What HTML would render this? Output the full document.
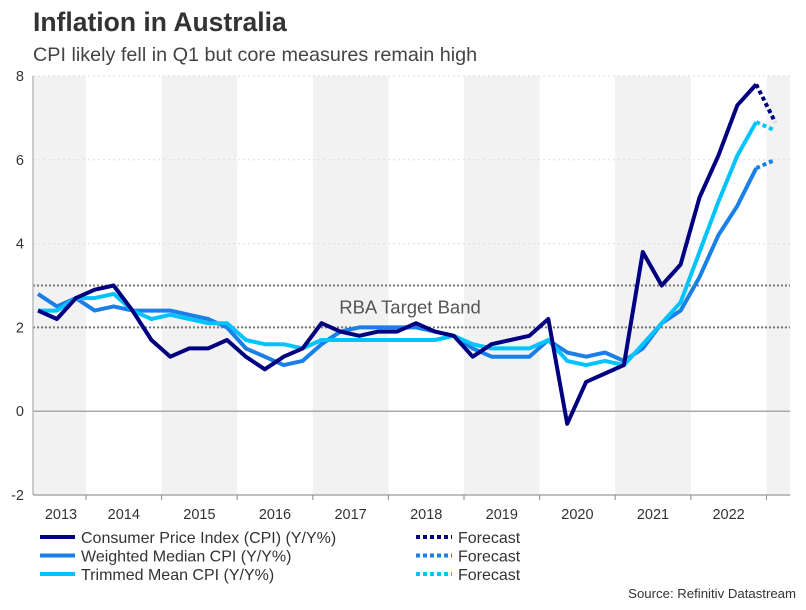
<!DOCTYPE html>
<html><head><meta charset="utf-8"><style>
body{margin:0;background:#fff;font-family:"Liberation Sans",Arial,sans-serif;}
</style></head><body>
<svg width="806" height="605" viewBox="0 0 806 605" xmlns="http://www.w3.org/2000/svg" font-family="Liberation Sans, Arial, sans-serif">
<text x="33" y="31" font-size="26.5" font-weight="bold" fill="#333">Inflation in Australia</text>
<text x="33" y="61" font-size="19.8" fill="#444">CPI likely fell in Q1 but core measures remain high</text>
<g id="bands"></g>
<g id="grid"></g>
<g id="series"></g>
<g id="axes"></g>
<g id="legend"></g>
<text x="796" y="598" font-size="13.2" fill="#333" text-anchor="end">Source: Refinitiv Datastream</text>
</svg>
<script>
const years = ["2013","2014","2015","2016","2017","2018","2019","2020","2021","2022"];
const yTicks = [-2,0,2,4,6,8];
const cpi = [2.4,2.2,2.7,2.9,3.0,2.4,1.7,1.3,1.5,1.5,1.7,1.3,1.0,1.3,1.5,2.1,1.9,1.8,1.9,1.9,2.1,1.9,1.8,1.3,1.6,1.7,1.8,2.2,-0.3,0.7,0.9,1.1,3.8,3.0,3.5,5.1,6.1,7.3,7.8];
const wmed = [2.8,2.5,2.7,2.4,2.5,2.4,2.4,2.4,2.3,2.2,2.0,1.5,1.3,1.1,1.2,1.6,1.9,2.0,2.0,2.0,2.0,1.9,1.8,1.5,1.3,1.3,1.3,1.7,1.4,1.3,1.4,1.2,1.5,2.1,2.4,3.2,4.2,4.9,5.8];
const tmean = [2.4,2.4,2.7,2.7,2.8,2.4,2.2,2.3,2.2,2.1,2.1,1.7,1.6,1.6,1.5,1.7,1.7,1.7,1.7,1.7,1.7,1.7,1.8,1.6,1.5,1.5,1.5,1.7,1.2,1.1,1.2,1.1,1.6,2.1,2.6,3.8,5.0,6.1,6.9];
const cpiF = [7.8,6.9];
const wmedF = [5.8,6.0];
const tmeanF = [6.9,6.7];
const band = [2,3];

const NS="http://www.w3.org/2000/svg";
const L=33,R=790,T=76,B=495;
const yMin=-2,yMax=8;
const y=v=>B-(v-yMin)/(yMax-yMin)*(B-T);
const yearW=75.6, year2014=86, qW=yearW/4;
const xi=i=>38+i*qW;
function mk(tag,attrs,parent){const e=document.createElementNS(NS,tag);for(const k in attrs)e.setAttribute(k,attrs[k]);document.getElementById(parent).appendChild(e);return e;}

for(let k=-1;k<=9;k++){
  const x0=year2014+k*yearW, x1=x0+yearW;
  if(k%2!==0){
    const a=Math.max(x0,L), b=Math.min(x1,R);
    const r=mk('rect',{x:a,y:T,width:b-a,height:B-T,fill:'#f2f2f2'},'bands');
    
    
  }
}
yTicks.forEach(v=>{
  if(v===-2)return;
  const g=mk('line',{x1:L,x2:R,y1:y(v),y2:y(v),stroke:v===0?'#aaa':'#ddd','stroke-width':v===0?1.5:1,'stroke-dasharray':v===0?'':'2,3'},'grid');
  
  
});
band.forEach(v=>{
  const g=mk('line',{x1:L,x2:R,y1:y(v),y2:y(v),stroke:'#777','stroke-width':2,'stroke-dasharray':'2,2'},'grid');
  
  
});
const bt=mk('text',{x:410,y:(y(band[0])+y(band[1]))/2+7,'font-size':18.5,fill:'#555','text-anchor':'middle'},'grid');
bt.textContent='RBA Target Band';



function line(vals,off,color,dash,name){
  const pts=vals.map((v,i)=>xi(i+off).toFixed(1)+','+y(v).toFixed(1)).join(' ');
  const p=mk('polyline',{points:pts,fill:'none',stroke:color,'stroke-width':4,'stroke-linejoin':'round','stroke-dasharray':dash},'series');
  
  
}
const cD='#000080',cM='#1a80e8',cL='#00c3ff';
line(wmed,0,cM,'','weighted-median-line');
line(tmean,0,cL,'','trimmed-mean-line');
line(cpi,0,cD,'','cpi-line');
line(wmedF,cpi.length-1,cM,'4,3','weighted-median-forecast');
line(tmeanF,cpi.length-1,cL,'4,3','trimmed-mean-forecast');
line(cpiF,cpi.length-1,cD,'4,3','cpi-forecast');

const ax=mk('line',{x1:L,x2:L,y1:T,y2:B,stroke:'#bbb','stroke-width':1.5},'axes');


const bx=mk('line',{x1:L,x2:R,y1:B,y2:B,stroke:'#aaa','stroke-width':1.5},'axes');


yTicks.forEach(v=>{
  const t=mk('text',{x:24,y:y(v)+5,'font-size':14.5,fill:'#333','text-anchor':'end'},'axes');
  t.textContent=v;
  
  
});
for(let k=0;k<=9;k++){
  const x=year2014+k*yearW;
  const tk=mk('line',{x1:x,x2:x,y1:B,y2:B+5,stroke:'#888'},'axes');
  
  
}
years.forEach((yr,k)=>{
  const cx=k===0?61:year2014+(k-1)*yearW+yearW/2;
  const t=mk('text',{x:cx,y:519,'font-size':14.5,fill:'#333','text-anchor':'middle'},'axes');
  t.textContent=yr;
  
  
});
const items=[[cD,'Consumer Price Index (CPI) (Y/Y%)'],[cM,'Weighted Median CPI (Y/Y%)'],[cL,'Trimmed Mean CPI (Y/Y%)']];
items.forEach((it,k)=>{
  const yy=537+k*18.5;
  const a=mk('line',{x1:40,x2:75,y1:yy,y2:yy,stroke:it[0],'stroke-width':4},'legend');
  
  
  const t=mk('text',{x:81,y:yy+6,'font-size':16,fill:'#333'},'legend');
  t.textContent=it[1];
  
  
  const b=mk('line',{x1:416,x2:452,y1:yy,y2:yy,stroke:it[0],'stroke-width':4,'stroke-dasharray':'4,3'},'legend');
  
  
  const f=mk('text',{x:458,y:yy+6,'font-size':16,fill:'#333'},'legend');
  f.textContent='Forecast';
  
  
});
</script>
</body></html>
